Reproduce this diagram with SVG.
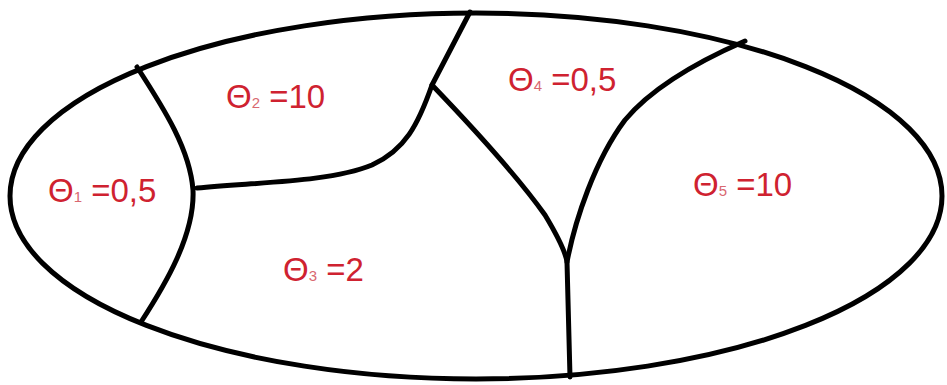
<svg xmlns="http://www.w3.org/2000/svg" width="947" height="385" viewBox="0 0 947 385">
<style>
.b{fill:none;stroke:#000;stroke-width:5;stroke-linecap:round;stroke-linejoin:round}
.t{font-family:"Liberation Sans",Arial,sans-serif;font-size:33px;fill:#cf2230}
.s{font-size:15px;fill:#d96870}
</style>
<rect width="947" height="385" fill="#fff"/>
<g id="outline">
<ellipse class="b" cx="476" cy="196" rx="466" ry="183"/>
</g>
<g id="boundaries">
<path class="b" d="M137,67 C165,110 190,150 193,190 C195,235 165,285 141,322"/>
<path class="b" d="M470,12 L432,85 C418,125 405,150 372,165 C330,182 260,182 197,188"/>
<path class="b" d="M432,85 C480,135 520,180 545,215 C560,240 566,255 567,262 L570,377"/>
<path class="b" d="M745,41 C690,65 650,90 625,120 C595,160 575,220 567,262"/>
</g>
<g id="r1"><text class="t" x="48" y="202">Θ<tspan class="s">1</tspan> =0,5</text></g>
<g id="r2"><text class="t" x="226" y="108">Θ<tspan class="s">2</tspan> =10</text></g>
<g id="r3"><text class="t" x="283" y="281">Θ<tspan class="s">3</tspan> =2</text></g>
<g id="r4"><text class="t" x="508" y="91">Θ<tspan class="s">4</tspan> =0,5</text></g>
<g id="r5"><text class="t" x="693" y="196">Θ<tspan class="s">5</tspan> =10</text></g>
</svg>
